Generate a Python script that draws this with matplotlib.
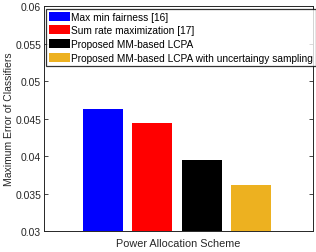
import matplotlib
matplotlib.use("Agg")
import matplotlib.pyplot as plt
from matplotlib.patches import Patch

schemes = [
    "Max min fairness [16]",
    "Sum rate maximization [17]",
    "Proposed MM-based LCPA",
    "Proposed MM-based LCPA with uncertaingy sampling",
]
max_error = [0.04627, 0.04440, 0.03950, 0.03610]
colors = ["#0000FF", "#FF0000", "#000000", "#EDB120"]
yticks = [0.03, 0.035, 0.04, 0.045, 0.05, 0.055, 0.06]
ytick_labels = ["0.03", "0.035", "0.04", "0.045", "0.05", "0.055", "0.06"]

plt.rcParams["font.family"] = ["Liberation Sans", "DejaVu Sans"]

fig = plt.figure(figsize=(3.16, 2.53), dpi=100)
ax = fig.add_axes([0.139, 0.083, 0.851, 0.889])

positions = list(range(len(max_error)))
ax.bar(positions, max_error, width=0.81, color=colors, edgecolor="none")

ax.set_xlim(-1.19, 4.24)
ax.set_ylim(0.03, 0.06)
ax.set_yticks(yticks)
ax.set_yticklabels(ytick_labels)
ax.set_xticks([])
ax.tick_params(axis="y", direction="in", length=3, width=0.6, labelsize=7.5,
               colors="#262626", right=True, pad=2)
ax.set_xlabel("Power Allocation Scheme", fontsize=7.8, color="#262626", labelpad=5)
ax.set_ylabel("Maximum Error of Classifiers", fontsize=7.5, color="#262626", labelpad=1)
for spine in ax.spines.values():
    spine.set_linewidth(0.7)
    spine.set_color("#262626")

handles = [Patch(facecolor=c, edgecolor="none") for c in colors]
leg = ax.legend(handles, schemes, loc="upper left", fontsize=7.3, frameon=True,
                fancybox=False, bbox_to_anchor=(0.008, 0.987), borderaxespad=0,
                handlelength=2.1, handleheight=1.0, handletextpad=0.15,
                labelspacing=0.38, borderpad=0.25)
leg.get_frame().set_edgecolor("black")
leg.get_frame().set_linewidth(0.9)

fig.savefig("out.png", dpi=100)
